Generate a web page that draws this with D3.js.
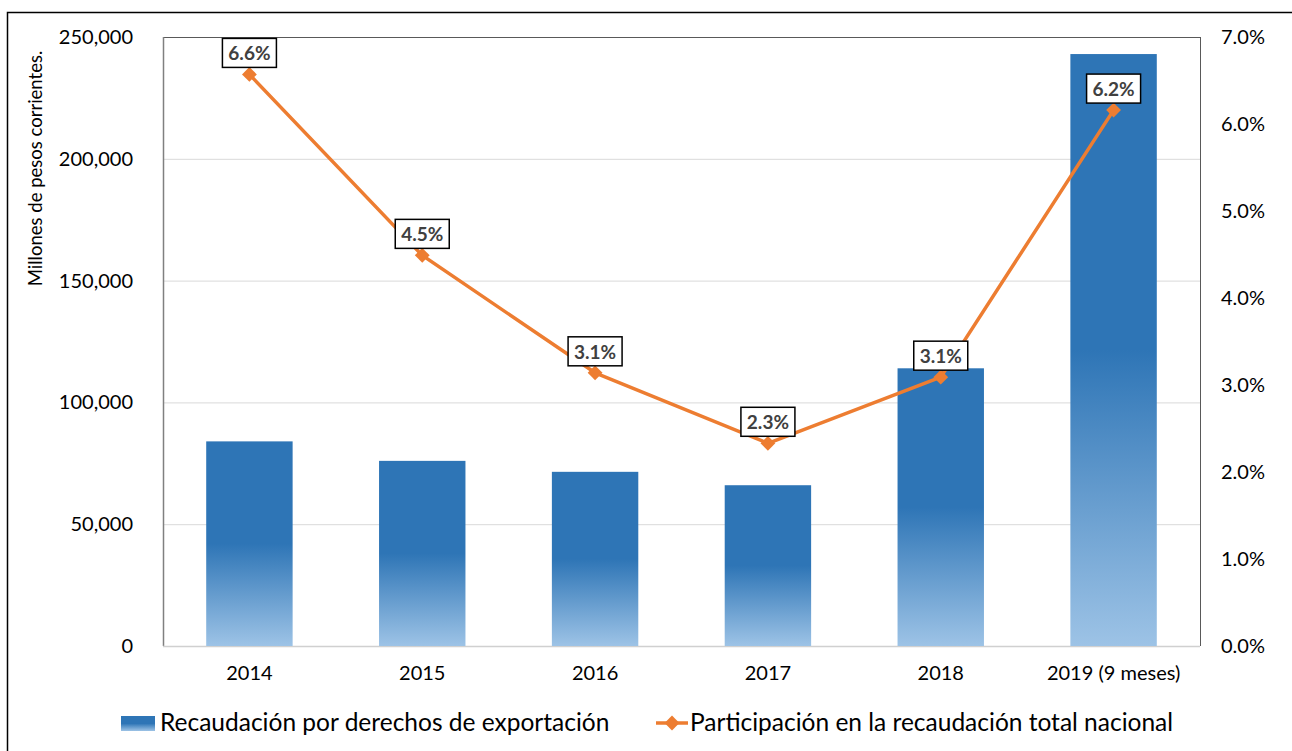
<!DOCTYPE html>
<html><head><meta charset="utf-8">
<script src="https://cdn.jsdelivr.net/npm/d3@7"></script>
<style>body{margin:0;background:#fff}svg{display:block}text{font-family:Lato,"Open Sans",sans-serif}</style>
</head><body><svg id="c" width="1292" height="751"></svg>
<script>
const categories = ["2014","2015","2016","2017","2018","2019 (9 meses)"];
const recaudacion = [84000, 76000, 71500, 66000, 114000, 243000];
const participacion = [6.57, 4.49, 3.14, 2.33, 3.09, 6.16];
const leftTicks = [0, 50000, 100000, 150000, 200000, 250000];
const rightTicks = [0,1,2,3,4,5,6,7];
const seriesNames = ["Recaudación por derechos de exportación","Participación en la recaudación total nacional"];
const yTitle = "Millones de pesos corrientes.";

const svg = d3.select("#c");
const W=1292,H=751;
const m={l:163,r:1200,t:37,b:646};
svg.append("rect").attr("x",7.5).attr("y",12.5).attr("width",W).attr("height",H).attr("fill","none").attr("stroke","#000").attr("stroke-width",1.5);

const x=d3.scaleBand().domain(categories).range([m.l,m.r]).paddingInner(0.5).paddingOuter(0.25);
const y=d3.scaleLinear().domain([0,250000]).range([m.b,m.t]);
const y2=d3.scaleLinear().domain([0,7]).range([m.b,m.t]);

const defs=svg.append("defs");
const g=defs.append("linearGradient").attr("id","bg").attr("x1",0).attr("y1",0).attr("x2",0).attr("y2",1);
g.append("stop").attr("offset","0").attr("stop-color","#2E75B6");
g.append("stop").attr("offset","0.5").attr("stop-color","#2E75B6");
g.append("stop").attr("offset","1").attr("stop-color","#9DC3E6");

// gridlines
svg.append("g").selectAll("line").data(leftTicks.slice(1)).join("line")
 .attr("x1",m.l).attr("x2",m.r).attr("y1",d=>y(d)+0.5).attr("y2",d=>y(d)+0.5).attr("stroke","#d9d9d9");
// plot frame
svg.append("line").attr("x1",m.l).attr("x2",m.r).attr("y1",m.t+0.5).attr("y2",m.t+0.5).attr("stroke","#595959");
svg.append("line").attr("x1",m.r+0.5).attr("x2",m.r+0.5).attr("y1",m.t).attr("y2",m.b).attr("stroke","#595959");
svg.append("line").attr("x1",m.l+0.5).attr("x2",m.l+0.5).attr("y1",m.t).attr("y2",m.b).attr("stroke","#808080").attr("stroke-width",1.5);
svg.append("line").attr("x1",m.l).attr("x2",m.r).attr("y1",m.b+0.5).attr("y2",m.b+0.5).attr("stroke","#d0d0d0").attr("stroke-width",1.5);

// bars
svg.append("g").selectAll("rect").data(recaudacion).join("rect")
 .attr("x",(d,i)=>x(categories[i])).attr("width",x.bandwidth())
 .attr("y",d=>y(d)).attr("height",d=>y(0)-y(d)).attr("fill","url(#bg)");

// axes
const fmt=d3.format(",");
const la=svg.append("g").attr("transform",`translate(${m.l},0)`).call(d3.axisLeft(y).tickValues(leftTicks).tickFormat(fmt).tickSize(0).tickPadding(30));
la.select(".domain").remove();
la.selectAll("text").attr("font-size",20).attr("fill","#000").attr("font-family","Lato");
const ra=svg.append("g").attr("transform",`translate(${m.r},0)`).call(d3.axisRight(y2).tickValues(rightTicks).tickFormat(d=>d.toFixed(1)+"%").tickSize(0).tickPadding(21));
ra.select(".domain").remove();
ra.selectAll("text").attr("font-size",20).attr("fill","#000").attr("font-family","Lato");
const ba=svg.append("g").attr("transform",`translate(0,${m.b})`).call(d3.axisBottom(x).tickSize(0).tickPadding(20));
ba.select(".domain").remove();
ba.selectAll("text").attr("font-size",20).attr("fill","#000").attr("font-family","Lato");

svg.append("text").attr("transform",`translate(42,${(m.t+300)/2}) rotate(-90)`).attr("text-anchor","middle")
 .attr("font-size",18.5).text(yTitle);

// line
const cx=(i)=>x(categories[i])+x.bandwidth()/2;
svg.append("path").datum(participacion).attr("fill","none").attr("stroke","#ED7D31").attr("stroke-width",3.5)
 .attr("stroke-linejoin","round")
 .attr("d",d3.line().x((d,i)=>cx(i)).y(d=>y2(d)));
svg.append("g").selectAll("path").data(participacion).join("path")
 .attr("transform",(d,i)=>`translate(${cx(i)},${y2(d)})`).attr("d",d3.symbol(d3.symbolDiamond2,140)()).attr("fill","#ED7D31");

// labels
const lg=svg.append("g").selectAll("g").data(participacion).join("g")
 .attr("transform",(d,i)=>`translate(${cx(i)},${y2(d)-21})`);
lg.append("rect").attr("x",-27).attr("y",-15).attr("width",54).attr("height",29).attr("fill","#fff").attr("stroke","#000").attr("stroke-width",1.5);
lg.append("text").attr("text-anchor","middle").attr("dy","0.36em").attr("font-size",19).attr("font-weight","bold").attr("fill","#404040")
 .text(d=>d.toFixed(1)+"%");

// legend
const leg=svg.append("g");
leg.append("rect").attr("x",121).attr("y",716).attr("width",34).attr("height",15).attr("fill","url(#bg)");
leg.append("text").attr("x",160).attr("y",731).attr("font-size",24.5).text(seriesNames[0]);
leg.append("line").attr("x1",656).attr("x2",688).attr("y1",723).attr("y2",723).attr("stroke","#ED7D31").attr("stroke-width",3.5);
leg.append("path").attr("transform","translate(672,723)").attr("d",d3.symbol(d3.symbolDiamond2,140)()).attr("fill","#ED7D31");
leg.append("text").attr("x",690).attr("y",731).attr("font-size",24.5).text(seriesNames[1]);
</script></body></html>
